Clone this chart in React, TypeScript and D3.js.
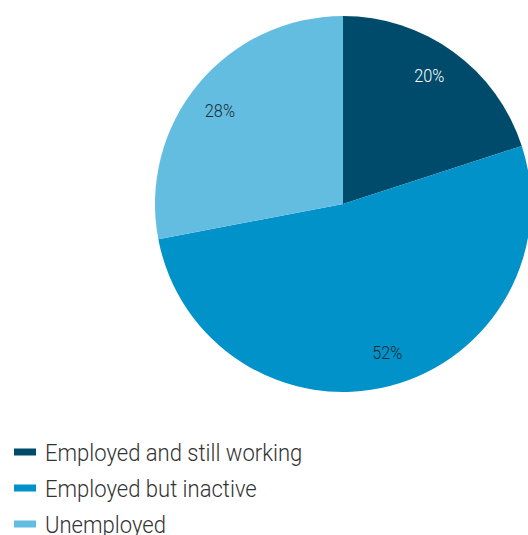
import React from "react";
import * as d3 from "d3";

const categories = ["Employed and still working", "Employed but inactive", "Unemployed"];
const values = [20, 52, 28];
const colors = ["#004b6b", "#0092c9", "#63bde0"];
const labelColors = ["#ffffff", "#1a2a33", "#1a2a33"];

const W = 528;
const H = 535;
const cx = 343;
const cy = 204;
const R = 188;
const LABEL_R = 155;
const LABEL_SHIFT = (-2.2 * Math.PI) / 180;
const FONT = "'Roboto', 'DejaVu Sans Condensed', sans-serif";
const SX_LABEL = 0.86;
const SX_LEGEND = 0.9;

export default function App() {
  const pie = d3.pie<number>().sort(null).value((d) => d)(values);
  const arc = d3.arc<d3.PieArcDatum<number>>().innerRadius(0).outerRadius(R);
  const legendY = d3.scalePoint<string>().domain(categories).range([452, 524]);
  return (
    <svg width={W} height={H} style={{ position: "absolute", left: 0, top: 0 }}>
      <g transform={`translate(${cx},${cy})`}>
        {pie.map((p, i) => (
          <path key={i} d={arc(p) || ""} fill={colors[i]} />
        ))}
        {pie.map((p, i) => {
          const a = (p.startAngle + p.endAngle) / 2 + LABEL_SHIFT;
          const x = Math.sin(a) * LABEL_R;
          const y = -Math.cos(a) * LABEL_R;
          return (
            <g key={i} transform={`translate(${x},${y}) scale(${SX_LABEL},1)`}>
              <text x={0} y={0} dy="0.35em" textAnchor="middle" fontFamily={FONT} fontWeight={300} fontSize={19} fill={labelColors[i]}>
                {values[i]}%
              </text>
            </g>
          );
        })}
      </g>
      {categories.map((c, i) => (
        <g key={c} transform={`translate(0,${legendY(c)})`}>
          <rect x={14} y={-3.5} width={22} height={7} fill={colors[i]} />
          <g transform={`translate(45,0) scale(${SX_LEGEND},1)`}>
            <text x={0} y={0} dy="0.36em" fontFamily={FONT} fontWeight={300} fontSize={24.5} fill="#333">
              {c}
            </text>
          </g>
        </g>
      ))}
    </svg>
  );
}
